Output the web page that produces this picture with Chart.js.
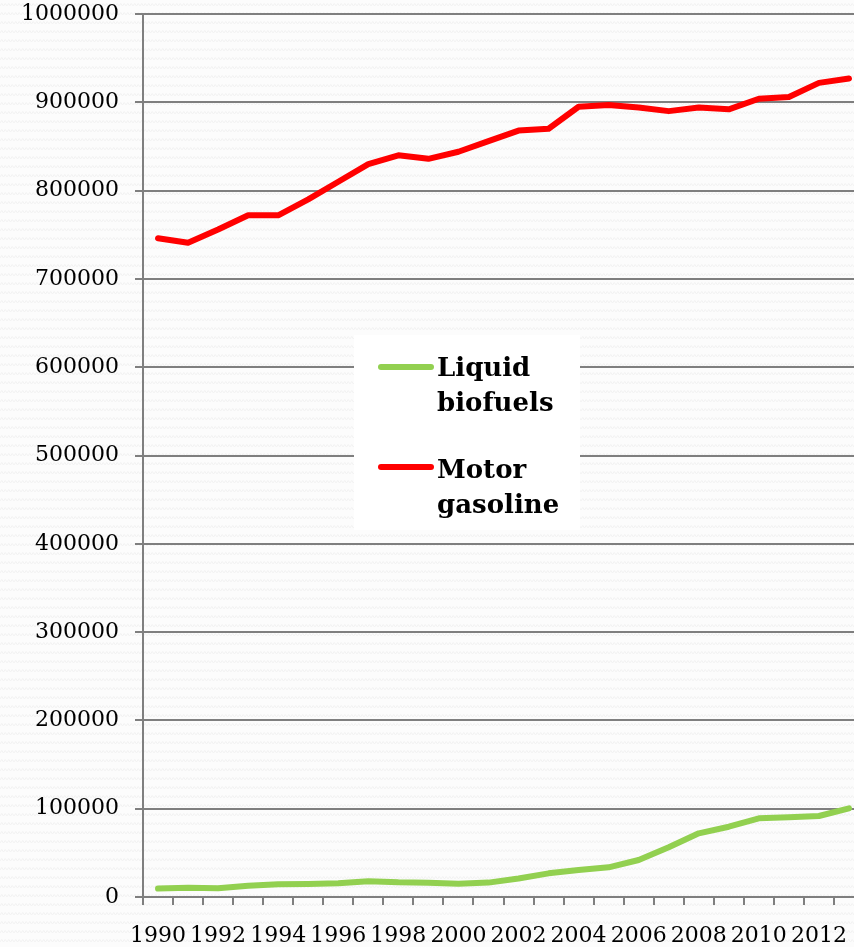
<!DOCTYPE html>
<html>
<head>
<meta charset="utf-8">
<script src="https://cdn.jsdelivr.net/npm/chart.js@4"></script>
<style>
html,body{margin:0;padding:0;overflow:hidden;background:#fbfbfb;}
canvas{display:block;}
</style>
</head>
<body>
<canvas id="c" width="864" height="947" style="width:864px;height:947px"></canvas>
<script>
const years = ['1990','1991','1992','1993','1994','1995','1996','1997','1998','1999','2000','2001','2002','2003','2004','2005','2006','2007','2008','2009','2010','2011','2012','2013'];
const liquidBiofuels = [9500,10500,9800,12800,14400,14700,15500,17800,16600,16200,15100,16300,21000,26800,30500,33600,41900,56300,72100,79600,89100,90200,91700,100400];
const motorGasoline = [746000,741000,756000,772000,772000,790000,810000,830000,840000,836000,844000,856000,868000,870000,895000,897000,894000,890000,894000,892000,904000,906000,922000,927000];
const seriesNames = ['Liquid biofuels','Motor gasoline'];
const yMin = 0, yMax = 1000000, yStep = 100000;

const serif = '"DejaVu Serif", "Liberation Serif", serif';

// background zigzag pattern
function makePattern(ctx){
  const t = document.createElement('canvas');
  t.width = 7; t.height = 9;
  const g = t.getContext('2d');
  g.fillStyle = '#fcfcfc'; g.fillRect(0,0,7,9);
  g.strokeStyle = '#f2f2f2'; g.lineWidth = 1;
  g.beginPath();
  g.moveTo(0,6); g.lineTo(1.75,3.5); g.lineTo(3.5,6); g.lineTo(5.25,3.5); g.lineTo(7,6);
  g.stroke();
  return ctx.createPattern(t,'repeat');
}

const bgPlugin = {
  id:'bg',
  beforeDraw(chart){
    const ctx = chart.ctx;
    ctx.save();
    ctx.fillStyle = makePattern(ctx);
    ctx.fillRect(0,0,chart.width,chart.height);
    ctx.restore();
  }
};

const legendPlugin = {
  id:'boxLegend',
  afterDraw(chart){
    const ctx = chart.ctx;
    ctx.save();
    ctx.fillStyle = '#ffffff';
    ctx.fillRect(354,335,226,195);
    const items = chart.data.datasets;
    const lineY = [367,467];
    const textY = [376,478];
    ctx.font = 'bold 26px ' + serif;
    ctx.textBaseline = 'alphabetic';
    ctx.textAlign = 'left';
    items.forEach((ds,i)=>{
      ctx.strokeStyle = ds.borderColor;
      ctx.lineWidth = 6;
      ctx.lineCap = 'round';
      ctx.beginPath();
      ctx.moveTo(381,lineY[i]); ctx.lineTo(431,lineY[i]);
      ctx.stroke();
      ctx.fillStyle = '#000';
      const words = ds.label.split(' ');
      words.forEach((w,j)=>{
        ctx.fillText(w,437,textY[i]+j*35);
      });
    });
    ctx.restore();
  }
};

new Chart(document.getElementById('c'),{
  type:'line',
  data:{
    labels: years,
    datasets:[
      {label:seriesNames[0], data:liquidBiofuels, borderColor:'#92d050', backgroundColor:'#92d050', borderWidth:6, pointRadius:0, tension:0, borderJoinStyle:'round', borderCapStyle:'round'},
      {label:seriesNames[1], data:motorGasoline, borderColor:'#ff0000', backgroundColor:'#ff0000', borderWidth:6, pointRadius:0, tension:0, borderJoinStyle:'round', borderCapStyle:'round'}
    ]
  },
  options:{
    responsive:false,
    animation:false,
    layout:{padding:{top:0,right:0,left:0,bottom:0}},
    plugins:{legend:{display:false},tooltip:{enabled:false}},
    scales:{
      x:{
        offset:true,
        grid:{offset:true,drawOnChartArea:false,drawTicks:true,tickLength:8,color:'#7f7f7f',lineWidth:2},
        border:{display:true,color:'#7f7f7f',width:2},
        ticks:{
          autoSkip:false,maxRotation:0,minRotation:0,padding:18,color:'#000',
          font:{family:serif,size:22},
          callback:function(v,i){ return i%2===0 ? this.getLabelForValue(v) : ''; }
        },
        afterFit(s){ s.height = 50; s.paddingLeft = 0; s.paddingRight = 0; }
      },
      y:{
        min:yMin,max:yMax,
        grid:{drawTicks:true,tickLength:8,color:'#7f7f7f',lineWidth:2},
        border:{display:true,color:'#7f7f7f',width:2},
        ticks:{stepSize:yStep,padding:16,color:'#000',font:{family:serif,size:22},callback:v=>String(v)},
        afterFit(s){ s.width = 143; s.paddingTop = 14; s.paddingBottom = 0; }
      }
    }
  },
  plugins:[bgPlugin,legendPlugin]
});
</script>
</body>
</html>
